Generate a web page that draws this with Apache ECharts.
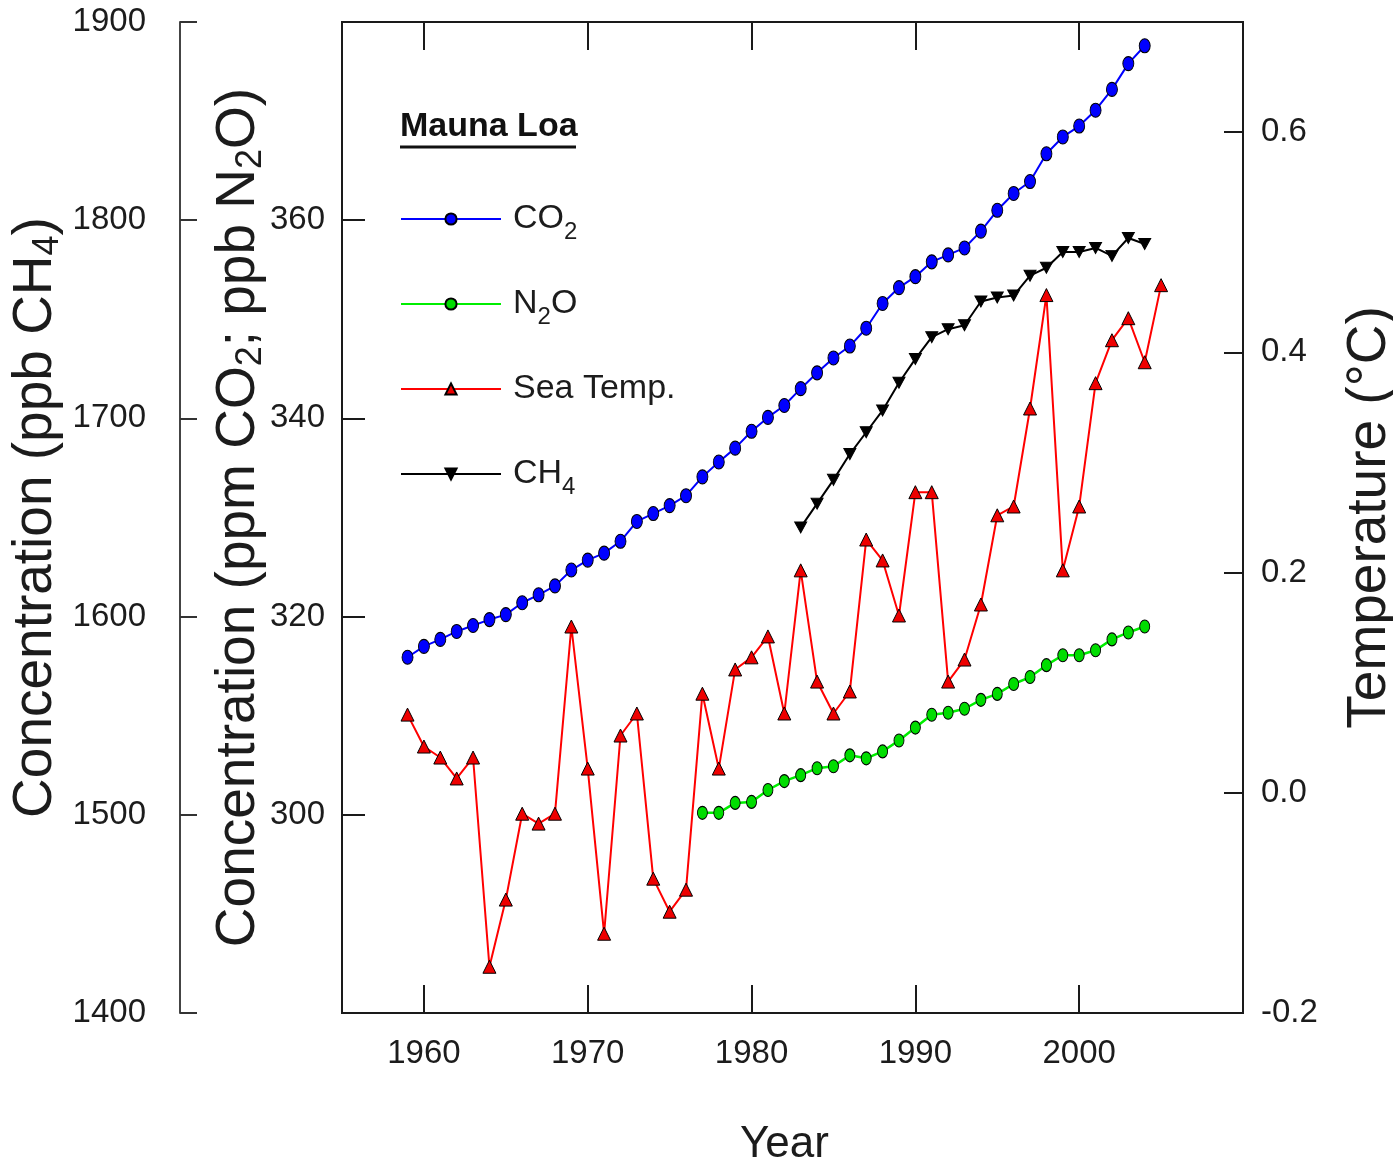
<!DOCTYPE html>
<html>
<head>
<meta charset="utf-8">
<title>Mauna Loa</title>
<script src="https://cdn.jsdelivr.net/npm/echarts@6.0.0/dist/echarts.min.js"></script>
<style>
  html, body { margin: 0; padding: 0; background: #fff; }
  #chart { width: 1393px; height: 1174px; }
</style>
</head>
<body>
<div id="chart"></div>
<script>
// data, one entry per year
const years = [1959, 1960, 1961, 1962, 1963, 1964, 1965, 1966, 1967, 1968,
  1969, 1970, 1971, 1972, 1973, 1974, 1975, 1976, 1977, 1978,
  1979, 1980, 1981, 1982, 1983, 1984, 1985, 1986, 1987, 1988,
  1989, 1990, 1991, 1992, 1993, 1994, 1995, 1996, 1997, 1998,
  1999, 2000, 2001, 2002, 2003, 2004, 2005]

const co2 = [315.9, 317.0, 317.7, 318.5, 319.1, 319.7, 320.2, 321.4, 322.2, 323.1,
  324.7, 325.7, 326.4, 327.6, 329.6, 330.4, 331.2, 332.2, 334.1, 335.6,
  337.0, 338.7, 340.1, 341.3, 343.0, 344.6, 346.1, 347.3, 349.1, 351.6,
  353.2, 354.3, 355.8, 356.5, 357.2, 358.9, 361.0, 362.7, 363.9, 366.7,
  368.4, 369.5, 371.1, 373.2, 375.8, 377.6, null]

const n2o = [null, null, null, null, null, null, null, null, null, null,
  null, null, null, null, null, null, null, null, 300.2, 300.2,
  301.2, 301.3, 302.5, 303.4, 304.0, 304.7, 304.9, 306.0, 305.7, 306.4,
  307.5, 308.8, 310.1, 310.3, 310.7, 311.6, 312.2, 313.2, 313.9, 315.1,
  316.1, 316.1, 316.6, 317.7, 318.4, 319.0, null]

const seaTemp = [0.071, 0.042, 0.032, 0.013, 0.032, -0.158, -0.097, -0.019, -0.028, -0.019,
  0.151, 0.022, -0.128, 0.052, 0.072, -0.078, -0.108, -0.088, 0.090, 0.022,
  0.112, 0.123, 0.142, 0.072, 0.202, 0.101, 0.072, 0.092, 0.230, 0.211,
  0.161, 0.273, 0.273, 0.101, 0.121, 0.171, 0.252, 0.260, 0.349, 0.452,
  0.202, 0.260, 0.372, 0.411, 0.431, 0.391, 0.461]

const ch4 = [null, null, null, null, null, null, null, null, null, null,
  null, null, null, null, null, null, null, null, null, null,
  null, null, null, null, 1645, 1657, 1669, 1682, 1693, 1704,
  1718, 1730, 1741, 1745, 1747, 1759, 1761, 1762, 1772, 1776,
  1784, 1784, 1786, 1782, 1791, 1788, null]

const yearTicks = [1960, 1970, 1980, 1990, 2000]
const tempTicks = [-0.2, 0, 0.2, 0.4, 0.6]

const font = "'Liberation Sans', Arial, sans-serif"
const ink = '#1c1c1c'
const frame = '#1a1a1a'

const pairs = (vals) => years.map((y, i) => [y, vals[i]]).filter(p => p[1] !== null)

const subNames = { CO2: 'CO{sub|2}', N2O: 'N{sub|2}O', CH4: 'CH{sub|4}' }

const nameStyle = {
    fontFamily: font,
    fontSize: 55,
    color: ink,
    lineHeight: 60,
    rich: { sub: { fontFamily: font, fontSize: 36, lineHeight: 26, verticalAlign: 'bottom', color: ink } }
}
const labelStyle = { fontFamily: font, fontSize: 33, color: ink }
const plotBox = { left: 342, right: 150, top: 22, bottom: 161, outerBoundsMode: 'none' }

const chart = echarts.init(document.getElementById('chart'))

chart.setOption({
    animation: false,
    backgroundColor: '#fff',
    grid: [
        Object.assign({ show: true, borderColor: frame, borderWidth: 2 }, plotBox),
        // same box again, only to carry the inner ticks of the CO2 / N2O scale
        Object.assign({ show: false }, plotBox)
    ],
    legend: {
        orient: 'vertical',
        left: 400,
        top: 194,
        padding: 0,
        itemWidth: 100,
        itemHeight: 14,
        itemGap: 35,
        formatter: (name) => subNames[name] || name,
        textStyle: {
            fontFamily: font, fontSize: 34, color: ink, lineHeight: 50, padding: [0, 0, 0, 7],
            rich: { sub: { fontFamily: font, fontSize: 24, lineHeight: 20, verticalAlign: 'bottom', color: ink } }
        }
    },
    graphic: [
        {
            type: 'text', left: 400, top: 110,
            style: { text: 'Mauna Loa', font: 'bold 34px ' + font, fill: '#111' }
        },
        {
            type: 'line',
            shape: { x1: 400, y1: 147, x2: 576, y2: 147 },
            style: { stroke: '#111', lineWidth: 3 }
        }
    ],
    xAxis: [
        {
            type: 'value', min: 1955, max: 2010, position: 'bottom',
            name: 'Year', nameLocation: 'middle', nameGap: 110,
            nameTextStyle: { fontFamily: font, fontSize: 44, color: ink, padding: [0, 16, 0, 0] },
            axisLine: { show: false, onZero: false },
            axisTick: { inside: true, length: 28, lineStyle: { color: frame, width: 2 }, customValues: yearTicks },
            axisLabel: Object.assign({ margin: 24, customValues: yearTicks, formatter: (v) => String(v) }, labelStyle),
            splitLine: { show: false }
        },
        {
            type: 'value', min: 1955, max: 2010, position: 'top',
            axisLine: { show: false, onZero: false },
            axisTick: { inside: true, length: 28, lineStyle: { color: frame, width: 2 }, customValues: yearTicks },
            axisLabel: { show: false },
            splitLine: { show: false }
        },
        {
            type: 'value', gridIndex: 1, min: 1955, max: 2010, show: false,
            axisLine: { onZero: false }, splitLine: { show: false }
        }
    ],
    yAxis: [
        {
            // CH4 axis, standing apart to the left
            type: 'value', min: 1400, max: 1900, interval: 100, position: 'left', offset: 162,
            name: 'Concentration (ppb CH{sub|4})', nameLocation: 'middle', nameRotate: 90, nameGap: 114,
            nameMoveOverlap: false,
            nameTextStyle: nameStyle,
            axisLine: { show: true, onZero: false, lineStyle: { color: '#444', width: 2 } },
            axisTick: { inside: true, length: 17, lineStyle: { color: '#333', width: 2 } },
            axisLabel: Object.assign({ margin: 34, formatter: (v) => String(v) }, labelStyle),
            splitLine: { show: false }
        },
        {
            // CO2 / N2O axis on the frame; end values sit on the frame and stay unlabelled
            type: 'value', min: 280, max: 380, interval: 20, position: 'left',
            axisLine: { show: true, onZero: false, lineStyle: { color: frame, width: 2 } },
            axisTick: { show: true, inside: true, length: 23, lineStyle: { color: frame, width: 2 } },
            axisLabel: Object.assign({
                margin: 17,
                formatter: (v) => (v === 280 || v === 380 ? '' : String(v))
            }, labelStyle),
            splitLine: { show: false }
        },
        {
            // temperature axis on the right frame
            type: 'value', min: -0.2, max: 0.7, position: 'right',
            name: 'Temperature (°C)', nameLocation: 'middle', nameRotate: 90, nameGap: 97,
            nameMoveOverlap: false,
            nameTextStyle: nameStyle,
            axisLine: { show: false, onZero: false },
            axisTick: { inside: true, length: 19, lineStyle: { color: frame, width: 2 }, customValues: tempTicks },
            axisLabel: Object.assign({ margin: 18, customValues: tempTicks, formatter: (v) => v.toFixed(1) }, labelStyle),
            splitLine: { show: false }
        },
        {
            // title of the CO2 / N2O scale
            type: 'value', min: 280, max: 380, position: 'left',
            name: 'Concentration (ppm CO{sub|2}; ppb N{sub|2}O)', nameLocation: 'middle', nameRotate: 90, nameGap: 73,
            nameMoveOverlap: false,
            nameTextStyle: nameStyle,
            axisLine: { show: false, onZero: false },
            axisTick: { show: false },
            axisLabel: { show: false },
            splitLine: { show: false }
        },
        {
            // inner ticks of the CO2 / N2O scale, alone on its own grid
            type: 'value', gridIndex: 1, min: 280, max: 380, interval: 20, position: 'left',
            axisLine: { show: false, onZero: false },
            axisTick: { show: true, inside: true, length: 23, lineStyle: { color: frame, width: 2 } },
            axisLabel: { show: false },
            splitLine: { show: false }
        }
    ],
    series: [
        {
            name: 'CO2', type: 'line', yAxisIndex: 1, data: pairs(co2),
            symbol: 'circle', symbolSize: [11, 14],
            lineStyle: { color: '#0000ff', width: 2 },
            itemStyle: { color: '#0000ff', borderColor: '#000', borderWidth: 1 }
        },
        {
            name: 'N2O', type: 'line', yAxisIndex: 1, data: pairs(n2o),
            symbol: 'circle', symbolSize: [10, 13],
            lineStyle: { color: '#00ee00', width: 2.5 },
            itemStyle: { color: '#00dd00', borderColor: '#000', borderWidth: 1 }
        },
        {
            name: 'Sea Temp.', type: 'line', yAxisIndex: 2, data: pairs(seaTemp),
            symbol: 'triangle', symbolSize: [13, 13],
            lineStyle: { color: '#ff0000', width: 2 },
            itemStyle: { color: '#ee0000', borderColor: '#000', borderWidth: 1 }
        },
        {
            name: 'CH4', type: 'line', yAxisIndex: 0, data: pairs(ch4),
            symbol: 'triangle', symbolRotate: 180, symbolSize: [12, 11],
            lineStyle: { color: '#000', width: 2 },
            itemStyle: { color: '#000', borderColor: '#000', borderWidth: 1 }
        }
    ]
})
</script>
</body>
</html>
